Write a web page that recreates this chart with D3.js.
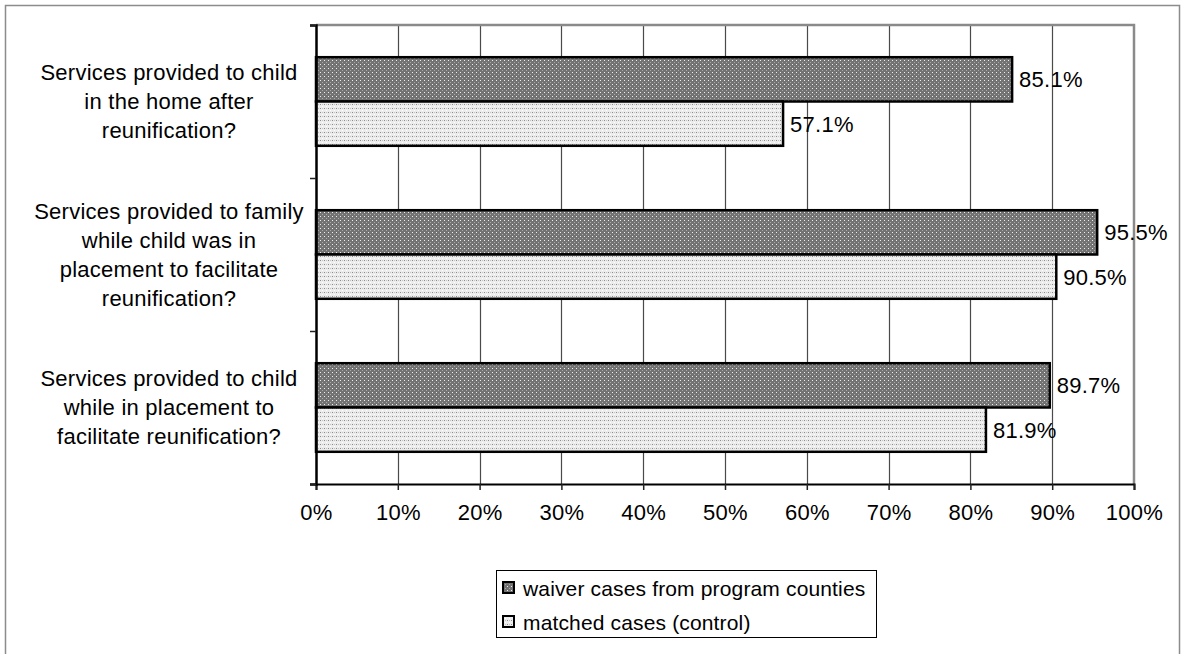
<!DOCTYPE html>
<html>
<head>
<meta charset="utf-8">
<script src="https://cdn.jsdelivr.net/npm/d3@7/dist/d3.min.js"></script>
<style>
  html, body { margin: 0; padding: 0; background: #fff; }
  svg { display: block; }
  text { font-family: "Liberation Sans", Arial, sans-serif; fill: #000; letter-spacing: 0.25px; }
</style>
</head>
<body>
<svg id="chart" width="1183" height="654"></svg>
<script>
// Categories (top to bottom), each a list of label lines
const categories = [
  ["Services provided to child", "in the home after", "reunification?"],
  ["Services provided to family", "while child was in", "placement to facilitate", "reunification?"],
  ["Services provided to child", "while in placement to", "facilitate reunification?"]
];
const seriesNames = ["waiver cases from program counties", "matched cases (control)"];
const waiverValues = [85.1, 95.5, 89.7];
const matchedValues = [57.1, 90.5, 81.9];
const xTicks = [0, 10, 20, 30, 40, 50, 60, 70, 80, 90, 100];

const svg = d3.select("#chart");
const plot = { left: 316, right: 1134, top: 25, bottom: 484 };
const fontSize = 22;

// Fill patterns for the two series
const defs = svg.append("defs");
const dark = defs.append("pattern").attr("id", "patDark")
  .attr("patternUnits", "userSpaceOnUse").attr("width", 4).attr("height", 4);
dark.append("rect").attr("width", 4).attr("height", 4).attr("fill", "#737373");
dark.append("rect").attr("x", 0).attr("y", 0).attr("width", 1).attr("height", 1).attr("fill", "#eeeeee");
dark.append("rect").attr("x", 2).attr("y", 2).attr("width", 1).attr("height", 1).attr("fill", "#a8a8a8");

const light = defs.append("pattern").attr("id", "patLight")
  .attr("patternUnits", "userSpaceOnUse").attr("width", 4).attr("height", 4);
light.append("rect").attr("width", 4).attr("height", 4).attr("fill", "#ececec");
light.append("rect").attr("x", 0).attr("y", 0).attr("width", 1).attr("height", 1).attr("fill", "#8c8c8c");
light.append("rect").attr("x", 2).attr("y", 2).attr("width", 1).attr("height", 1).attr("fill", "#ffffff");
light.append("rect").attr("x", 2).attr("y", 0).attr("width", 1).attr("height", 1).attr("fill", "#c4c4c4");

const fills = ["url(#patDark)", "url(#patLight)"];

// Outer chart frame
svg.append("rect")
  .attr("x", 5.5).attr("y", 5.5).attr("width", 1174).attr("height", 700)
  .attr("fill", "none").attr("stroke", "#8c8c8c").attr("stroke-width", 1.5);

// Scales
const x = d3.scaleLinear().domain([0, 100]).range([plot.left, plot.right]);
const y = d3.scaleBand().domain(d3.range(categories.length))
  .range([plot.top, plot.bottom]).paddingInner(0).paddingOuter(0);
const inner = d3.scaleBand().domain([0, 1])
  .range([0, y.bandwidth()]).paddingInner(0).paddingOuter(0.727);

// Vertical gridlines
svg.append("g").selectAll("line")
  .data(xTicks.filter(t => t > 0 && t < 100))
  .join("line")
  .attr("x1", d => Math.round(x(d)) + 0.5).attr("x2", d => Math.round(x(d)) + 0.5)
  .attr("y1", plot.top).attr("y2", plot.bottom)
  .attr("stroke", "#4a4a4a").attr("stroke-width", 1.2);

// Plot area border (top and right)
svg.append("path")
  .attr("d", `M${plot.left},${plot.top} H${plot.right} V${plot.bottom}`)
  .attr("fill", "none").attr("stroke", "#8a8a8a").attr("stroke-width", 2.5);

// Bars
const series = [waiverValues, matchedValues];
const rows = [];
categories.forEach((c, i) => series.forEach((vals, s) => rows.push({ i, s, v: vals[i] })));

svg.append("g").selectAll("rect")
  .data(rows)
  .join("rect")
  .attr("x", x(0))
  .attr("y", d => y(d.i) + inner(d.s))
  .attr("width", d => x(d.v) - x(0))
  .attr("height", inner.bandwidth())
  .attr("fill", d => fills[d.s])
  .attr("stroke", "#000").attr("stroke-width", 2.5);

// Value labels
svg.append("g").selectAll("text")
  .data(rows)
  .join("text")
  .attr("x", d => x(d.v) + 7)
  .attr("y", d => y(d.i) + inner(d.s) + inner.bandwidth() / 2)
  .attr("dy", "0.36em")
  .attr("font-size", fontSize)
  .text(d => d.v.toFixed(1) + "%");

// X axis
const xAxis = d3.axisBottom(x).tickValues(xTicks).tickSize(6).tickPadding(14)
  .tickFormat(d => d + "%");
const gx = svg.append("g").attr("transform", `translate(0,${plot.bottom})`).call(xAxis);
gx.select(".domain").attr("stroke", "#000").attr("stroke-width", 2);
gx.selectAll(".tick line").attr("stroke", "#222").attr("stroke-width", 1.5);
gx.selectAll(".tick text").attr("font-size", fontSize)
  .attr("font-family", "Liberation Sans, Arial, sans-serif").attr("fill", "#000");

// Y axis (category boundaries as ticks)
const yEdges = d3.scaleLinear().domain([0, categories.length]).range([plot.top, plot.bottom]);
const yAxis = d3.axisLeft(yEdges).tickValues(d3.range(categories.length + 1)).tickSize(6).tickFormat("");
const gy = svg.append("g").attr("transform", `translate(${plot.left},0)`).call(yAxis);
gy.select(".domain").attr("stroke", "#000").attr("stroke-width", 2.5);
gy.selectAll(".tick line").attr("stroke", "#222").attr("stroke-width", 1.5);

// Category labels
const lineH = 29;
const catG = svg.append("g");
categories.forEach((lines, i) => {
  const cy = y(i) + y.bandwidth() / 2;
  const t = catG.append("text")
    .attr("text-anchor", "middle")
    .attr("font-size", fontSize);
  lines.forEach((ln, k) => {
    t.append("tspan")
      .attr("x", 169)
      .attr("y", cy + (k - (lines.length - 1) / 2) * lineH)
      .attr("dy", "0.36em")
      .text(ln);
  });
});

// Legend
const legend = { x: 496, y: 570, w: 380, h: 67 };
svg.append("rect")
  .attr("x", legend.x + 0.5).attr("y", legend.y + 0.5)
  .attr("width", legend.w).attr("height", legend.h)
  .attr("fill", "#fff").attr("stroke", "#000").attr("stroke-width", 1);
const lg = svg.append("g").selectAll("g")
  .data(seriesNames)
  .join("g")
  .attr("transform", (d, i) => `translate(${legend.x + 7},${legend.y + 12 + i * 34})`);
lg.append("rect")
  .attr("width", 11).attr("height", 11)
  .attr("fill", (d, i) => fills[i])
  .attr("stroke", "#000").attr("stroke-width", 2);
lg.append("text")
  .attr("x", 20).attr("y", 6).attr("dy", "0.36em")
  .attr("font-size", 21)
  .style("letter-spacing", "0.15px")
  .text(d => d);
</script>
</body>
</html>
